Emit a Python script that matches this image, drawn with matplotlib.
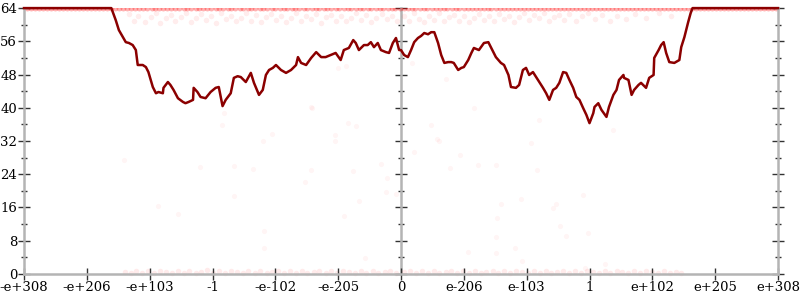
import matplotlib
matplotlib.use('Agg')
import matplotlib.pyplot as plt
from matplotlib.ticker import MultipleLocator

# x axis is ordinal over the float range, 0 in the middle
tick_pos = [-6, -5, -4, -3, -2, -1, 0, 1, 2, 3, 4, 5, 6]
tick_labels = ['-e+308', '-e+206', '-e+103', '-1', '-e-102', '-e-205', '0',
               'e-206', 'e-103', '1', 'e+102', 'e+205', 'e+308']

# bits of error, averaged curve
err_x = [-6, -4.61, -4.54, -4.49, -4.38, -4.33, -4.27, -4.22, -4.19, -4.11, -4.06, -4.02,
         -3.95, -3.90, -3.86, -3.79, -3.78, -3.71, -3.67, -3.62, -3.55, -3.47, -3.43, -3.38,
         -3.31, -3.30, -3.24, -3.19, -3.11, -3.03, -2.95, -2.90, -2.84, -2.79, -2.71, -2.66,
         -2.60, -2.55, -2.47, -2.39, -2.34, -2.26, -2.20, -2.15, -2.10, -2.04, -1.99, -1.91,
         -1.83, -1.75, -1.67, -1.64, -1.59, -1.51, -1.43, -1.35, -1.27, -1.20, -1.12, -1.04,
         -0.96, -0.91, -0.83, -0.76, -0.72, -0.67, -0.59, -0.53, -0.48, -0.43, -0.37, -0.32,
         -0.24, -0.19, -0.13, -0.08, -0.03, 0, 0.05, 0.11, 0.16, 0.21, 0.27, 0.32, 0.37, 0.43,
         0.48, 0.53, 0.59, 0.64, 0.69, 0.75, 0.80, 0.84, 0.91, 0.96, 1.00, 1.07, 1.12, 1.16,
         1.24, 1.32, 1.39, 1.43, 1.51, 1.59, 1.64, 1.71, 1.75, 1.83, 1.88, 1.94, 1.99, 2.04,
         2.10, 2.18, 2.26, 2.31, 2.36, 2.42, 2.47, 2.52, 2.58, 2.63, 2.68, 2.74, 2.79, 2.84,
         2.90, 2.95, 3.00, 3.06, 3.08, 3.14, 3.19, 3.27, 3.31, 3.38, 3.43, 3.47, 3.54, 3.55,
         3.62, 3.67, 3.71, 3.78, 3.82, 3.90, 3.95, 4.02, 4.03, 4.10, 4.14, 4.18, 4.22, 4.27,
         4.35, 4.43, 4.46, 4.51, 4.57, 4.61, 4.64, 6]
err_y = [64, 64, 61.1, 58.7, 55.8, 55.6, 55.1, 53.9, 50.3, 50.3, 49.8, 48.6,
         45.0, 43.5, 43.8, 43.5, 44.8, 46.2, 45.5, 44.3, 42.3, 41.4, 41.1, 41.4,
         41.9, 44.8, 43.8, 42.6, 42.3, 43.8, 44.8, 45.0, 40.4, 41.9, 43.5, 47.2,
         47.6, 47.4, 46.2, 48.4, 46.0, 43.1, 44.3, 47.9, 49.1, 49.6, 50.3, 49.1,
         48.4, 49.1, 50.3, 52.2, 50.8, 50.3, 52.0, 53.4, 52.2, 52.2, 52.7, 53.2,
         51.5, 53.9, 54.4, 56.3, 55.6, 53.9, 55.1, 55.1, 55.8, 54.6, 55.6, 53.9,
         53.4, 53.2, 55.6, 56.8, 53.9, 53.9, 52.7, 52.2, 53.9, 55.8, 56.8, 57.3, 58.0, 57.7,
         58.2, 58.2, 55.6, 52.7, 50.8, 51.0, 51.0, 50.8, 49.1, 49.6, 49.8, 51.5, 53.2, 54.4,
         53.9, 55.6, 55.8, 54.6, 52.2, 50.8, 50.3, 47.9, 45.0, 44.8, 45.5, 49.1, 49.6, 47.9,
         48.6, 46.7, 44.8, 43.5, 41.9, 44.3, 44.8, 46.0, 48.6, 48.4, 46.7, 44.8, 42.6, 41.9,
         39.9, 38.3, 36.3, 38.7, 40.2, 41.1, 39.5, 37.8, 40.2, 43.1, 44.3, 46.7, 47.9, 47.2,
         46.7, 43.1, 44.3, 45.5, 46.0, 44.8, 47.2, 47.9, 52.0, 53.9, 55.1, 55.8, 53.2, 51.0,
         50.8, 51.5, 54.6, 57.0, 60.6, 62.8, 64, 64]

# sample points stuck at 64 bits
max_x = [-5.95, -5.89, -5.82, -5.76, -5.70, -5.63, -5.57, -5.50, -5.44, -5.38, -5.31, -5.25,
         -5.19, -5.12, -5.06, -5.00, -4.93, -4.87, -4.80, -4.74, -4.68, -4.61, -4.55, -4.49,
         -4.42, -4.36, -4.29, -4.23, -4.17, -4.10, -4.04, -3.97, -3.91, -3.85, -3.78, -3.72,
         -3.66, -3.59, -3.53, -3.46, -3.40, -3.34, -3.27, -3.21, -3.15, -3.08, -3.02, -2.95,
         -2.89, -2.83, -2.76, -2.70, -2.64, -2.57, -2.51, -2.44, -2.38, -2.32, -2.25, -2.19,
         -2.13, -2.06, -2.00, -1.93, -1.87, -1.81, -1.74, -1.68, -1.62, -1.55, -1.49, -1.42,
         -1.36, -1.30, -1.23, -1.17, -1.11, -1.04, -0.98, -0.91, -0.85, -0.79, -0.72, -0.66,
         -0.60, -0.53, -0.47, -0.40, -0.34, -0.28, -0.21, -0.15, -0.09, -0.02, 0.04, 0.11,
         0.17, 0.23, 0.30, 0.36, 0.42, 0.49, 0.55, 0.62, 0.68, 0.74, 0.81, 0.87, 0.93, 1.00,
         1.06, 1.13, 1.19, 1.25, 1.32, 1.38, 1.44, 1.51, 1.57, 1.64, 1.70, 1.76, 1.83, 1.89,
         1.95, 2.02, 2.08, 2.15, 2.21, 2.27, 2.34, 2.40, 2.46, 2.53, 2.59, 2.66, 2.72, 2.78,
         2.85, 2.91, 2.97, 3.04, 3.10, 3.17, 3.23, 3.29, 3.36, 3.42, 3.48, 3.55, 3.61, 3.68,
         3.74, 3.80, 3.87, 3.93, 3.99, 4.06, 4.12, 4.19, 4.25, 4.31, 4.38, 4.44, 4.50, 4.57,
         4.63, 4.70, 4.76, 4.82, 4.89, 4.95, 5.01, 5.08, 5.14, 5.21, 5.27, 5.33, 5.40, 5.46,
         5.52, 5.59, 5.65, 5.72, 5.78, 5.84, 5.91, 5.97]

# sample points just below the top
top_pts = [(-4.33, 62.6), (-4.25, 61.0), (-4.18, 62.1), (-4.08, 60.7), (-3.98, 61.8), (-3.90, 62.9),
           (-3.83, 60.4), (-3.74, 61.5), (-3.66, 62.4), (-3.59, 60.9), (-3.50, 61.9), (-3.42, 62.8),
           (-3.35, 60.6), (-3.27, 61.6), (-3.18, 62.5), (-3.10, 61.1), (-3.02, 62.0), (-2.94, 60.5),
           (-2.86, 62.7), (-2.78, 61.3), (-2.70, 62.2), (-2.62, 60.8), (-2.55, 61.7), (-2.47, 62.9),
           (-2.39, 61.0), (-2.31, 62.3), (-2.23, 60.6), (-2.15, 61.9), (-2.07, 62.6), (-1.99, 61.2),
           (-1.91, 62.1), (-1.83, 60.7), (-1.75, 61.6), (-1.67, 62.8), (-1.59, 60.9), (-1.51, 62.0),
           (-1.43, 61.4), (-1.35, 62.6), (-1.27, 60.5), (-1.19, 61.8), (-1.11, 62.4), (-1.03, 61.0),
           (-0.95, 62.2), (-0.87, 60.8), (-0.79, 61.5), (-0.71, 62.9), (-0.63, 61.1), (-0.55, 62.3),
           (-0.47, 60.6), (-0.39, 61.7), (-0.31, 62.5), (-0.23, 61.3), (-0.15, 62.0), (-0.07, 60.9),
           (0.04, 62.1), (0.12, 61.0), (0.20, 62.7), (0.28, 61.4), (0.36, 60.6), (0.44, 62.2),
           (0.52, 61.2), (0.60, 62.8), (0.68, 60.8), (0.76, 61.9), (0.84, 62.4), (0.92, 61.0),
           (1.00, 62.1), (1.08, 60.7), (1.16, 61.6), (1.24, 62.6), (1.32, 61.2), (1.40, 62.0),
           (1.48, 60.9), (1.56, 62.5), (1.64, 61.4), (1.72, 62.2), (1.80, 60.6), (1.88, 61.8),
           (1.96, 62.7), (2.04, 61.1), (2.12, 62.3), (2.20, 61.5), (2.28, 62.9), (2.36, 60.8),
           (2.44, 61.9), (2.52, 62.4), (2.60, 61.2), (2.68, 62.6), (2.78, 61.0), (2.88, 62.0),
           (2.98, 62.8), (3.08, 61.4), (3.20, 62.3), (3.32, 60.9), (3.44, 62.1), (3.58, 61.3),
           (3.72, 62.5), (3.90, 61.6), (4.10, 62.7), (4.30, 62.2)]

# sample points with (almost) no error
low_pts = [(-4.40, 0.5), (-4.30, 0.2), (-4.21, 0.7), (-4.12, 0.3), (-4.03, 0.6), (-3.93, 0.2),
           (-3.84, 0.8), (-3.74, 0.4), (-3.65, 0.1), (-3.55, 0.6), (-3.46, 0.3), (-3.37, 0.7),
           (-3.27, 0.2), (-3.18, 0.5), (-3.08, 0.9), (-2.99, 0.3), (-2.90, 0.6), (-2.80, 0.1),
           (-2.71, 0.7), (-2.61, 0.4), (-2.52, 0.2), (-2.43, 0.8), (-2.33, 0.3), (-2.24, 0.6),
           (-2.14, 0.1), (-2.05, 0.5), (-1.96, 0.8), (-1.86, 0.2), (-1.77, 0.6), (-1.67, 0.3),
           (-1.58, 0.7), (-1.49, 0.1), (-1.39, 0.5), (-1.30, 0.8), (-1.20, 0.3), (-1.11, 0.6),
           (-1.02, 0.2), (-0.92, 0.7), (-0.83, 0.4), (-0.73, 0.1), (-0.64, 0.6), (-0.55, 0.3),
           (-0.45, 0.8), (-0.36, 0.2), (-0.26, 0.5), (-0.17, 0.7), (-0.08, 0.3),
           (0.05, 0.4), (0.14, 0.7), (0.24, 0.2), (0.33, 0.6), (0.43, 0.3), (0.52, 0.8),
           (0.61, 0.1), (0.71, 0.5), (0.80, 0.7), (0.89, 0.2), (0.99, 0.6), (1.08, 0.3),
           (1.18, 0.8), (1.27, 0.1), (1.36, 0.5), (1.46, 0.7), (1.55, 0.3), (1.64, 0.6),
           (1.74, 0.2), (1.83, 0.8), (1.92, 0.4), (2.02, 0.1), (2.11, 0.6), (2.21, 0.3),
           (2.30, 0.7), (2.39, 0.2), (2.49, 0.5), (2.58, 0.8), (2.68, 0.3), (2.77, 0.6),
           (2.86, 0.1), (2.96, 0.7), (3.05, 0.4), (3.15, 0.2), (3.24, 0.6), (3.33, 0.3),
           (3.43, 0.8), (3.52, 0.5), (3.62, 0.2), (3.71, 0.6), (3.80, 0.3), (3.90, 0.7),
           (3.99, 0.4), (4.09, 0.2), (4.18, 0.6), (4.28, 0.3), (4.37, 0.5), (4.46, 0.2)]

# scattered samples in between
mid_pts = [(-2.82, 38.7), (-2.85, 35.9), (-1.42, 39.9), (-2.06, 33.7), (-2.20, 32.0), (-0.84, 36.3),
           (-0.72, 35.6), (-1.05, 33.4), (-1.05, 32.0), (-4.41, 27.4), (-3.20, 25.7), (-2.65, 26.0),
           (-2.36, 25.3), (-1.43, 25.0), (-0.76, 24.8), (-0.32, 26.5), (-0.22, 23.1), (-1.53, 22.1),
           (-0.24, 19.7), (-0.08, 19.2), (-2.65, 18.8), (-0.67, 17.6), (-3.86, 16.4), (-3.55, 14.4),
           (-0.91, 14.0), (-2.18, 10.3), (1.16, 39.9), (2.20, 37.1), (0.48, 35.9), (0.57, 32.5),
           (0.61, 32.0), (2.07, 31.5), (3.38, 34.6), (0.21, 29.4), (0.94, 28.6), (0.78, 25.5),
           (1.23, 26.2), (1.51, 26.2), (2.17, 25.0), (2.90, 19.0), (1.91, 18.0), (1.59, 16.8),
           (2.47, 16.8), (2.42, 15.9), (1.53, 13.5), (2.53, 11.5), (1.51, 8.9), (2.63, 9.1),
           (2.98, 9.9), (-2.18, 6.3), (-0.57, 3.8), (1.07, 5.3), (1.51, 5.1), (1.82, 6.3),
           (1.93, 3.1), (3.24, 2.4), (2.93, 1.4), (-1.43, 40.2), (-1.00, 49.6), (-0.88, 50.0),
           (0.72, 46.9), (0.18, 50.8)]

plt.rcParams['font.family'] = 'DejaVu Serif'
plt.rcParams['font.size'] = 9.5

fig = plt.figure(figsize=(8, 3), dpi=100)
rect = [0.03, 0.087, 0.9425, 0.886]

# helper axes just for the vertical axis through 0
ax0 = fig.add_axes(rect)
ax0.set_xlim(-6, 6)
ax0.set_ylim(0, 64)
ax0.patch.set_visible(False)
for s in ['top', 'right', 'bottom']:
    ax0.spines[s].set_visible(False)
ax0.spines['left'].set_position(('data', 0))
ax0.spines['left'].set_color('#b4b4b4')
ax0.spines['left'].set_linewidth(1.8)
ax0.set_xticks([])
ax0.yaxis.set_major_locator(MultipleLocator(8))
ax0.yaxis.set_minor_locator(MultipleLocator(4))
ax0.tick_params(axis='y', which='both', direction='inout', labelleft=False, width=1, color='#333333')
ax0.tick_params(axis='y', which='major', length=8)
ax0.tick_params(axis='y', which='minor', length=5)

ax = fig.add_axes(rect)
ax.patch.set_visible(False)
ax.set_xlim(-6, 6)
ax.set_ylim(0, 64)

red = (1.0, 0.0, 0.0)
mx = [p[0] for p in mid_pts]
my = [p[1] for p in mid_pts]
ax.scatter(mx, my, s=14, color=red, alpha=0.04, linewidths=0, clip_on=False)
tx = [p[0] for p in top_pts]
ty = [p[1] for p in top_pts]
ax.scatter(tx, ty, s=16, color=red, alpha=0.07, linewidths=0, clip_on=False)
ax.scatter(max_x, [64] * len(max_x), s=18, color=red, alpha=0.3, linewidths=0, clip_on=True)
lx = [p[0] for p in low_pts]
ly = [p[1] for p in low_pts]
ax.scatter(lx, ly, s=16, color=red, alpha=0.08, linewidths=0, clip_on=False)

ax.plot(err_x, err_y, color='#8b0000', linewidth=1.8, clip_on=False, zorder=3)

ax.spines['top'].set_visible(False)
for s in ['left', 'right', 'bottom']:
    ax.spines[s].set_color('#b4b4b4')
    ax.spines[s].set_linewidth(1.8)

ax.set_xticks(tick_pos)
ax.set_xticklabels(tick_labels)
ax.yaxis.set_major_locator(MultipleLocator(8))
ax.yaxis.set_minor_locator(MultipleLocator(4))
ax.tick_params(axis='both', which='both', direction='inout', width=1, color='#333333', pad=1)
ax.tick_params(axis='both', which='major', length=8)
ax.tick_params(axis='y', which='minor', length=5)
ax.tick_params(axis='y', which='both', right=True)

fig.savefig('out.png', dpi=100)
